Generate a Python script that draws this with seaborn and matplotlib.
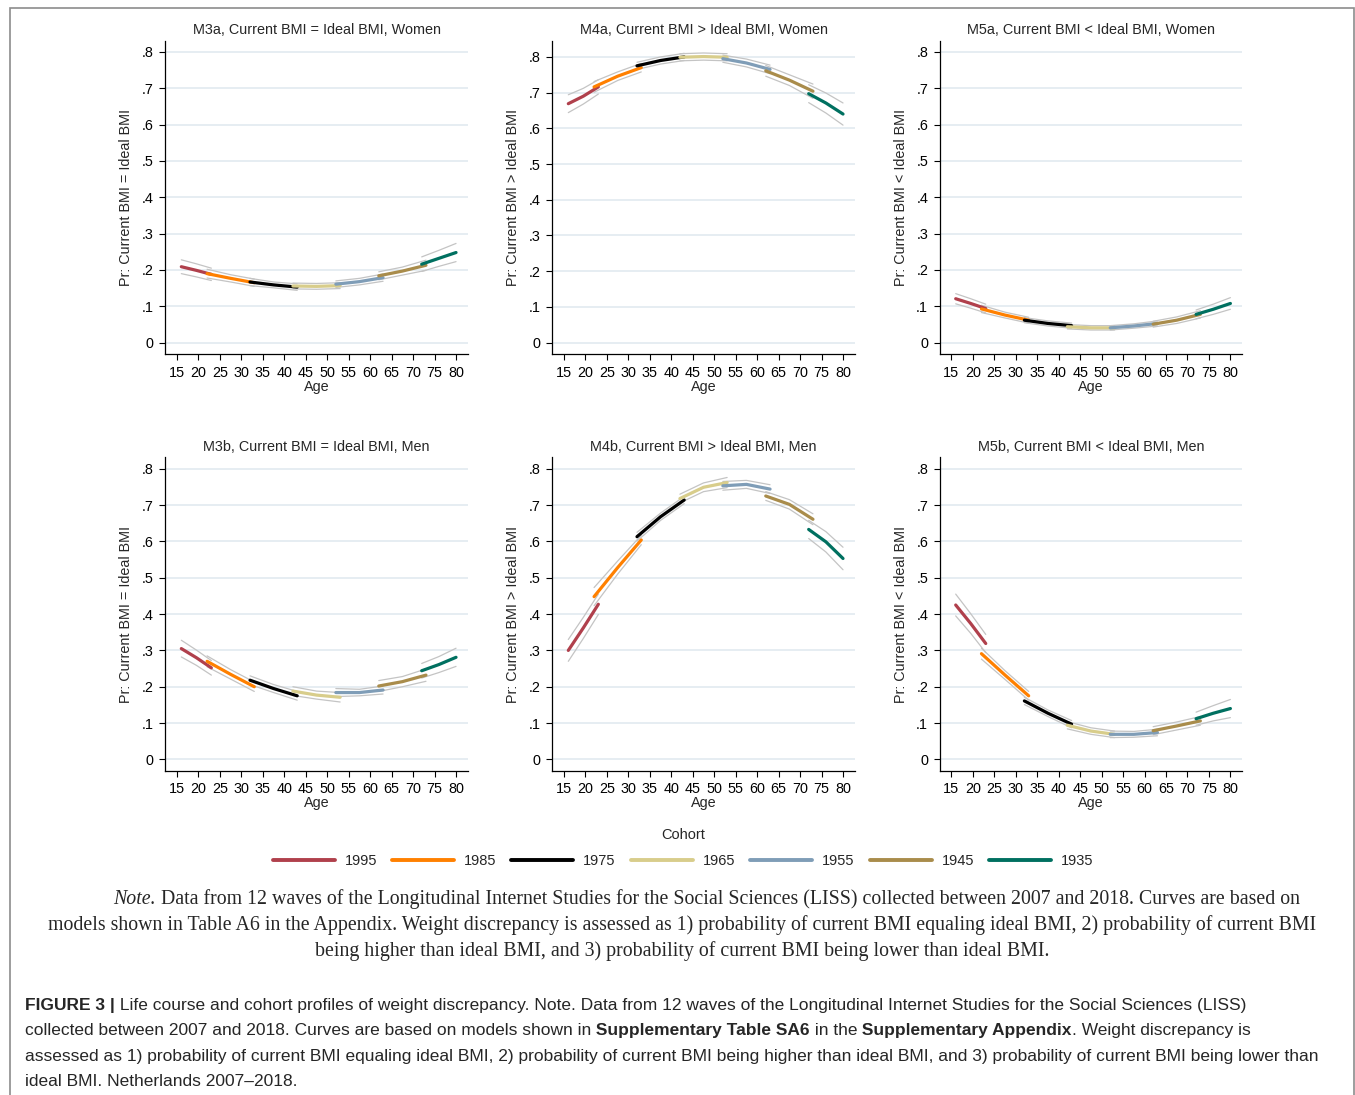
import matplotlib
matplotlib.use("Agg")
import matplotlib.pyplot as plt
import pandas as pd
import seaborn as sns
from matplotlib.lines import Line2D
from matplotlib.patches import Rectangle

cohorts = ["1995", "1985", "1975", "1965", "1955", "1945", "1935"]
cohort_colors = ["#b0404c", "#ff8000", "#000000", "#d8cd8b", "#7f9db7", "#a98c4b", "#007060"]

# age window of each cohort: start, middle, end
age_start = [16, 22, 32, 42, 52, 62, 72]
age_mid = [19.5, 27.5, 37.5, 47.5, 57.5, 67.5, 76]
age_end = [23, 33, 43, 53, 63, 73, 80]

# predicted probabilities (start, mid, end) per cohort, and CI half widths
m3a_est = [[.209, .199, .188], [.190, .177, .165], [.167, .159, .153], [.156, .155, .157],
           [.161, .168, .179], [.184, .197, .213], [.216, .232, .248]]
m3a_ci = [[.019, .018, .017], [.012, .010, .010], [.010, .008, .009], [.008, .008, .008],
          [.009, .009, .010], [.011, .011, .014], [.020, .022, .025]]

m4a_est = [[.669, .690, .716], [.716, .746, .770], [.775, .790, .800], [.799, .801, .799],
           [.795, .783, .765], [.761, .735, .704], [.697, .671, .640]]
m4a_ci = [[.025, .022, .020], [.015, .012, .012], [.010, .010, .010], [.010, .010, .010],
          [.010, .011, .012], [.015, .015, .020], [.025, .028, .031]]

m5a_est = [[.121, .108, .094], [.093, .076, .062], [.062, .053, .047], [.044, .041, .041],
           [.041, .046, .053], [.051, .062, .078], [.078, .092, .108]]
m5a_ci = [[.014, .013, .012], [.010, .008, .008], [.007, .007, .007], [.006, .006, .006],
          [.006, .006, .007], [.008, .009, .010], [.012, .014, .016]]

m3b_est = [[.305, .280, .252], [.270, .234, .200], [.218, .195, .175], [.188, .177, .171],
           [.184, .184, .191], [.202, .214, .232], [.244, .261, .281]]
m3b_ci = [[.023, .021, .020], [.015, .013, .013], [.012, .011, .012], [.012, .011, .013],
          [.011, .009, .011], [.015, .014, .017], [.020, .022, .025]]

m4b_est = [[.300, .362, .427], [.448, .528, .604], [.613, .668, .714], [.718, .749, .762],
           [.753, .757, .744], [.725, .702, .661], [.633, .599, .553]]
m4b_ci = [[.030, .029, .028], [.025, .018, .013], [.012, .010, .010], [.012, .012, .014],
          [.012, .011, .012], [.012, .013, .015], [.025, .028, .031]]

m5b_est = [[.425, .374, .319], [.291, .232, .175], [.161, .127, .097], [.094, .078, .069],
           [.069, .069, .074], [.079, .092, .106], [.112, .127, .140]]
m5b_ci = [[.030, .027, .025], [.015, .012, .012], [.010, .009, .010], [.010, .009, .009],
          [.009, .008, .009], [.011, .011, .012], [.018, .021, .025]]

y_ticks = [0, .1, .2, .3, .4, .5, .6, .7, .8]
y_tick_labels = ["0", ".1", ".2", ".3", ".4", ".5", ".6", ".7", ".8"]
x_ticks = list(range(15, 81, 5))

note_lines = [
    "models shown in Table A6 in the Appendix. Weight discrepancy is assessed as 1) probability of current BMI equaling ideal BMI, 2) probability of current BMI",
    "being higher than ideal BMI, and 3) probability of current BMI being lower than ideal BMI.",
]

W, H = 1355, 1095

sns.set_style("ticks")
plt.rcParams["font.family"] = ["Liberation Sans", "DejaVu Sans"]

fig = plt.figure(figsize=(W / 100, H / 100), dpi=100)
renderer = fig.canvas.get_renderer()


def build_df(est, ci):
    rows = []
    for c, e, h, a0, a1, a2 in zip(cohorts, est, ci, age_start, age_mid, age_end):
        for age, v, hw in zip([a0, a1, a2], e, h):
            rows.append({"cohort": c, "age": age, "pr": v, "lo": v - hw, "hi": v + hw})
    return pd.DataFrame(rows)


def plot_panel(ax, est, ci, title, ylabel, ylim):
    df = build_df(est, ci)
    bounds = pd.concat([
        df.assign(val=df["lo"], key=df["cohort"] + "lo"),
        df.assign(val=df["hi"], key=df["cohort"] + "hi"),
    ])
    sns.lineplot(data=bounds, x="age", y="val", units="key", estimator=None,
                 color="#c4c4c4", lw=0.9, ax=ax, legend=False)
    sns.lineplot(data=df, x="age", y="pr", hue="cohort", hue_order=cohorts,
                 palette=cohort_colors, estimator=None, errorbar=None,
                 lw=2.3, ax=ax, legend=False)

    ax.set_xlim(12.27, 82.73)
    ax.set_ylim(*ylim)
    ax.set_xticks(x_ticks)
    ax.set_yticks(y_ticks)
    ax.set_yticklabels(y_tick_labels)
    ax.yaxis.grid(True, color="#e4ecf1", lw=1.3)
    ax.xaxis.grid(False)
    ax.set_axisbelow(True)
    sns.despine(ax=ax)
    for s in ["left", "bottom"]:
        ax.spines[s].set_color("black")
        ax.spines[s].set_linewidth(0.9)
    ax.tick_params(direction="out", length=4.3, width=0.8, pad=4,
                   labelsize=10.4, colors="black")
    ax.set_title(title, fontsize=10.4, pad=5)
    ax.set_xlabel("Age", fontsize=10.4, labelpad=0)
    ax.set_ylabel(ylabel, fontsize=10.4, labelpad=6)


lefts = [0.122, 0.4076, 0.6935]
panels = [
    (lefts[0], 0.6767, m3a_est, m3a_ci, "M3a, Current BMI = Ideal BMI, Women", "Pr: Current BMI = Ideal BMI", (-0.031, 0.830)),
    (lefts[1], 0.6767, m4a_est, m4a_ci, "M4a, Current BMI > Ideal BMI, Women", "Pr: Current BMI > Ideal BMI", (-0.032, 0.845)),
    (lefts[2], 0.6767, m5a_est, m5a_ci, "M5a, Current BMI < Ideal BMI, Women", "Pr: Current BMI < Ideal BMI", (-0.031, 0.830)),
    (lefts[0], 0.2962, m3b_est, m3b_ci, "M3b, Current BMI = Ideal BMI, Men", "Pr: Current BMI = Ideal BMI", (-0.031, 0.831)),
    (lefts[1], 0.2962, m4b_est, m4b_ci, "M4b, Current BMI > Ideal BMI, Men", "Pr: Current BMI > Ideal BMI", (-0.031, 0.831)),
    (lefts[2], 0.2962, m5b_est, m5b_ci, "M5b, Current BMI < Ideal BMI, Men", "Pr: Current BMI < Ideal BMI", (-0.031, 0.831)),
]
for left, bottom, est, ci, title, ylabel, ylim in panels:
    ax = fig.add_axes([left, bottom, 0.2232, 0.286])
    plot_panel(ax, est, ci, title, ylabel, ylim)

# legend
handles = [Line2D([], [], color=c, lw=2.8) for c in cohort_colors]
fig.legend(handles, cohorts, loc="center", bbox_to_anchor=(683 / W, 1 - 848 / H),
           ncol=7, frameon=False, title="Cohort", fontsize=10.5, title_fontsize=10.5,
           handlelength=4.25, handletextpad=0.68, columnspacing=1.03, labelspacing=0.8)


def make_runs(runs, size, family):
    pieces = []
    for txt, weight, style in runs:
        pieces.append(fig.text(0, 0, txt, fontsize=size, family=family, weight=weight,
                               style=style, va="baseline", ha="left"))
    widths = [t.get_window_extent(renderer).width for t in pieces]
    return pieces, widths


def put_runs(x_px, y_px, runs, size, family, ha="left"):
    pieces, widths = make_runs(runs, size, family)
    x = x_px - sum(widths) / 2 if ha == "center" else x_px
    for t, w in zip(pieces, widths):
        t.set_position((x / W, 1 - y_px / H))
        x += w


def fit_size(text, target, family, weight="normal"):
    t = fig.text(0, 0, text, fontsize=10, family=family, weight=weight)
    w = t.get_window_extent(renderer).width
    t.remove()
    return 10 * target / w


serif = ["Liberation Serif", "DejaVu Serif"]
sans = ["Liberation Sans", "DejaVu Sans"]

note_size = fit_size(note_lines[0], 1267, serif)
put_runs(113, 904, [("Note.", "normal", "italic"),
                    (" Data from 12 waves of the Longitudinal Internet Studies for the Social Sciences (LISS) collected between 2007 and 2018. Curves are based on", "normal", "normal")],
         note_size, serif)
put_runs(682, 930, [(note_lines[0], "normal", "normal")], note_size, serif, ha="center")
put_runs(682, 956, [(note_lines[1], "normal", "normal")], note_size, serif, ha="center")

cap3 = "assessed as 1) probability of current BMI equaling ideal BMI, 2) probability of current BMI being higher than ideal BMI, and 3) probability of current BMI being lower than"
cap_size = fit_size(cap3, 1298, sans)
put_runs(25, 1010, [("FIGURE 3 |", "bold", "normal"),
                    (" Life course and cohort profiles of weight discrepancy. Note. Data from 12 waves of the Longitudinal Internet Studies for the Social Sciences (LISS)", "normal", "normal")],
         cap_size, sans)
put_runs(25, 1035, [("collected between 2007 and 2018. Curves are based on models shown in", "normal", "normal"),
                    (" Supplementary Table SA6", "bold", "normal"),
                    (" in the", "normal", "normal"),
                    (" Supplementary Appendix", "bold", "normal"),
                    (". Weight discrepancy is", "normal", "normal")],
         cap_size, sans)
put_runs(25, 1061, [(cap3, "normal", "normal")], cap_size, sans)
put_runs(25, 1086, [("ideal BMI. Netherlands 2007\u20132018.", "normal", "normal")], cap_size, sans)

# outer frame of the figure panel
fig.add_artist(Rectangle((10 / W, -0.01), (1354 - 10) / W, (H - 8) / H + 0.01,
                         transform=fig.transFigure, fill=False, ec="#8c8c8c", lw=1.2))

fig.savefig("out.png", dpi=100)
